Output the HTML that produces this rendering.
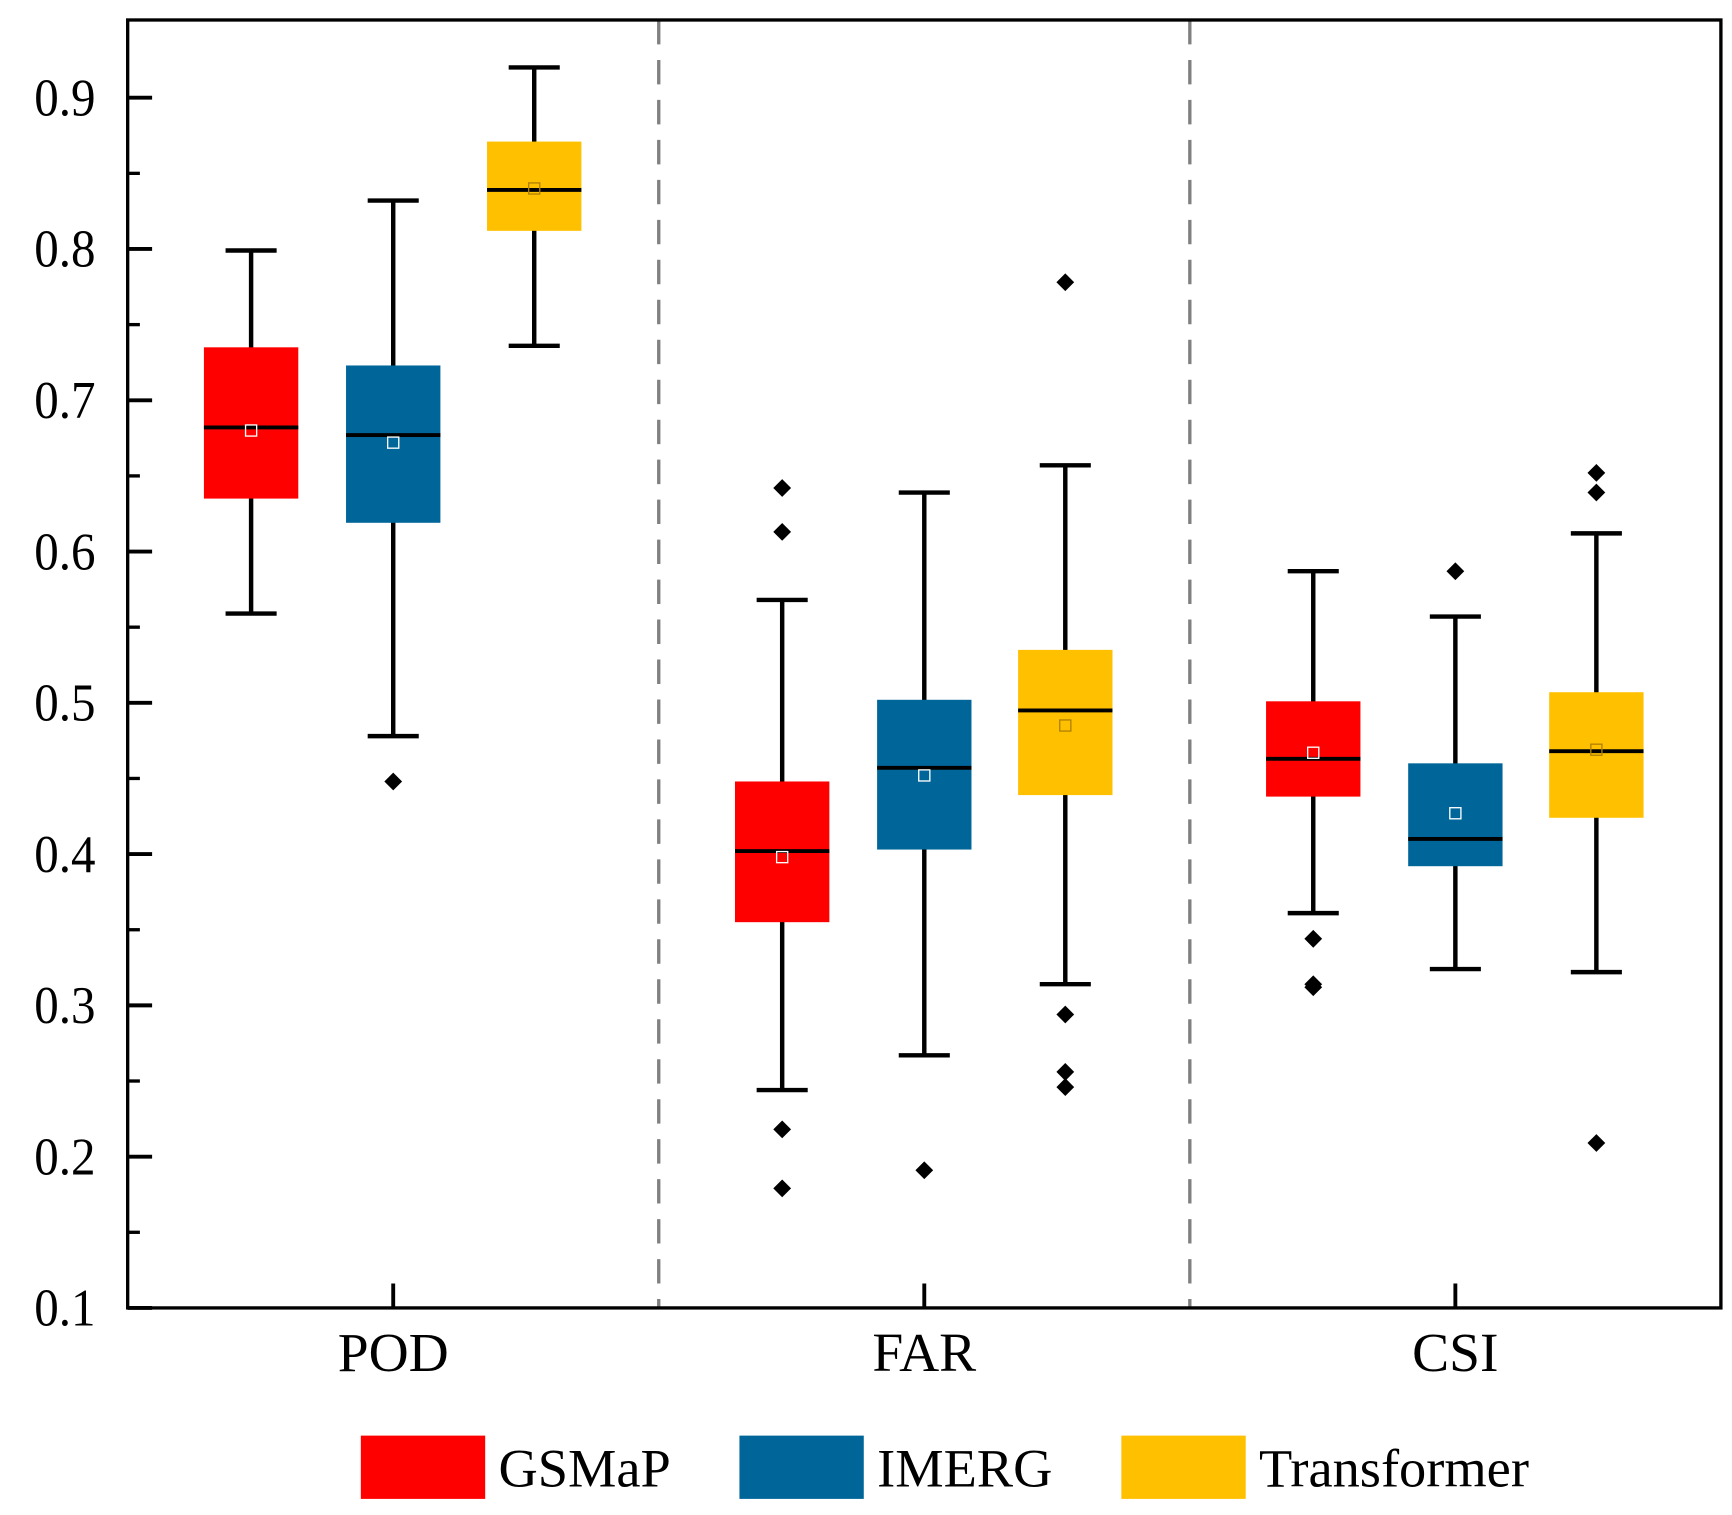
<!DOCTYPE html>
<html><head><meta charset="utf-8"><style>
html,body{margin:0;padding:0;background:#fff}
svg{display:block}
text{font-family:"Liberation Serif",serif;fill:#000}
</style></head><body>
<svg id="chart" width="1732" height="1515" viewBox="0 0 1560 1364.5" preserveAspectRatio="none" xmlns="http://www.w3.org/2000/svg">
<g id="plot"></g>
</svg>
<script>
const categories = ["POD","FAR","CSI"];
const seriesNames = ["GSMaP","IMERG","Transformer"];
const seriesColors = ["#ff0000","#006699","#ffc000"];
const yTicks = [0.1,0.2,0.3,0.4,0.5,0.6,0.7,0.8,0.9];
const yTickLabels = ["0.1","0.2","0.3","0.4","0.5","0.6","0.7","0.8","0.9"];
// [min, q1, median, q3, max, mean] per category, per series
const gsmapStats = [[0.559,0.635,0.682,0.735,0.799,0.680],[0.244,0.355,0.402,0.448,0.568,0.398],[0.361,0.438,0.463,0.501,0.587,0.467]];
const imergStats = [[0.478,0.619,0.677,0.723,0.832,0.672],[0.267,0.403,0.457,0.502,0.639,0.452],[0.324,0.392,0.410,0.460,0.557,0.427]];
const transStats = [[0.736,0.812,0.839,0.871,0.920,0.840],[0.314,0.439,0.495,0.535,0.657,0.485],[0.322,0.424,0.468,0.507,0.612,0.469]];
const gsmapOutliers = [[],[0.642,0.613,0.218,0.179],[0.344,0.314,0.312]];
const imergOutliers = [[0.448],[0.191],[0.587]];
const transOutliers = [[],[0.778,0.294,0.256,0.246],[0.652,0.639,0.209]];

const NS="http://www.w3.org/2000/svg";
const g=document.getElementById('plot');
const L=115,R=1550,T=18,B=1178;
const yMin=0.1,yMax=0.9;
const y=v=>B-(v-yMin)/(yMax-yMin)*(B-88);
const catW=(R-L)/3;
const xc=i=>L+catW*(i+0.5);
const off=[-128,0,127];
function el(tag,a,parent){const e=document.createElementNS(NS,tag);for(const k in a)e.setAttribute(k,a[k]);(parent||g).appendChild(e);return e;}

for(let i=1;i<3;i++){
  const d=el('line',{x1:L+catW*i,x2:L+catW*i,y1:T,y2:B,stroke:'#808080','stroke-width':3,'stroke-dasharray':'22,14'});
  
  
}
const allStats=[gsmapStats,imergStats,transStats];
const allOut=[gsmapOutliers,imergOutliers,transOutliers];
for(let s=0;s<3;s++){
  for(let c=0;c<3;c++){
    const st=allStats[s][c];const x=xc(c)+off[s];
    const grp=el('g',{});
    
    
    el('line',{x1:x,x2:x,y1:y(st[0]),y2:y(st[4]),stroke:'#000','stroke-width':4},grp);
    el('line',{x1:x-23,x2:x+23,y1:y(st[0]),y2:y(st[0]),stroke:'#000','stroke-width':4},grp);
    el('line',{x1:x-23,x2:x+23,y1:y(st[4]),y2:y(st[4]),stroke:'#000','stroke-width':4},grp);
    el('rect',{x:x-42.5,y:y(st[3]),width:85,height:y(st[1])-y(st[3]),fill:seriesColors[s]},grp);
    el('line',{x1:x-42.5,x2:x+42.5,y1:y(st[2]),y2:y(st[2]),stroke:'#000','stroke-width':3.5},grp);
    el('rect',{x:x-5,y:y(st[5])-5,width:10,height:10,fill:'none',stroke:s==2?'#b08000':'#fff','stroke-width':1.2},grp);
    allOut[s][c].forEach(v=>{
      const p=el('path',{d:`M${x},${y(v)-8} L${x+8},${y(v)} L${x},${y(v)+8} L${x-8},${y(v)} Z`,fill:'#000'});
      
      
    });
  }
}
const fr=el('rect',{x:L,y:T,width:R-L,height:B-T,fill:'none',stroke:'#000','stroke-width':3});


yTicks.forEach((v,i)=>{
  el('line',{x1:L,x2:L+22,y1:y(v),y2:y(v),stroke:'#000','stroke-width':3.5});
  if(i<yTicks.length-1){const m=(v+yTicks[i+1])/2;el('line',{x1:L,x2:L+11,y1:y(m),y2:y(m),stroke:'#000','stroke-width':3});}
  const t=el('text',{x:0,y:0,'font-size':48,'text-anchor':'end',transform:`translate(86,${y(v)+16}) scale(0.92,1)`});
  t.textContent=yTickLabels[i];
  
  
});
categories.forEach((c,i)=>{
  el('line',{x1:xc(i),x2:xc(i),y1:B,y2:B-22,stroke:'#000','stroke-width':3.5});
  const t=el('text',{x:xc(i),y:1235,'font-size':50,'text-anchor':'middle'});
  t.textContent=c;
  
  
});
const legX=[325,666,1010];
seriesNames.forEach((n,i)=>{
  const lg=el('g',{});
  
  
  el('rect',{x:legX[i],y:1293,width:112,height:57,fill:seriesColors[i]},lg);
  const t=el('text',{x:legX[i]+124,y:1339,'font-size':49},lg);
  t.textContent=n;
});
</script>
</body></html>
